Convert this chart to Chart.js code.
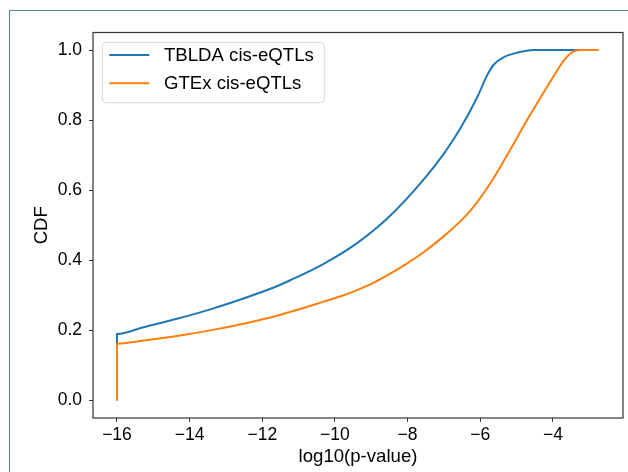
<!DOCTYPE html>
<html>
<head>
<meta charset="utf-8">
<script src="https://cdn.jsdelivr.net/npm/chart.js@4.4.1/dist/chart.umd.min.js"></script>
<style>
    html, body { margin: 0; padding: 0; background: #fff; overflow: hidden; }
    #wrap { position: relative; width: 628px; height: 472px; }
    #frame { position: absolute; left: 9px; top: 10px; width: 640px; height: 480px;
             border-left: 1px solid #5b7fb4; border-top: 1px solid #5b7fb4; }
    #cdfChart { position: absolute; left: 0; top: 0; }
</style>
</head>
<body>
<div id="wrap">
    <div id="frame"></div>
    <canvas id="cdfChart" width="628" height="472"></canvas>
</div>
<script>
// log10(p-value) / CDF pairs for each set of cis-eQTLs
var tbldaX = [-16, -16, -15.27, -14.35, -13.43, -12.52, -11.6, -11.23, -10.31, -9.39, -8.48, -7.56, -7.01, -6.55, -6.09, -5.8, -5.63, -5.36, -4.99, -4.53, -3.0];
var tbldaY = [0, 0.19, 0.209, 0.233, 0.26, 0.291, 0.326, 0.343, 0.39, 0.449, 0.527, 0.63, 0.703, 0.776, 0.864, 0.93, 0.958, 0.979, 0.992, 1.0, 1.0];

var gtexX = [-16, -16, -15.27, -14.35, -13.43, -12.52, -11.6, -10.31, -9.8, -9.39, -8.9, -8.48, -8.0, -7.56, -7.0, -6.55, -6.3, -6.09, -5.85, -5.63, -5.4, -5.17, -4.71, -4.26, -3.98, -3.8, -3.65, -3.52, -3.38, -3.25, -2.74];
var gtexY = [0, 0.162, 0.171, 0.184, 0.2, 0.219, 0.242, 0.282, 0.299, 0.315, 0.338, 0.362, 0.392, 0.423, 0.469, 0.511, 0.538, 0.565, 0.6, 0.635, 0.675, 0.716, 0.8, 0.878, 0.925, 0.955, 0.976, 0.99, 0.998, 1.0, 1.0];

var xTicks = [-16, -14, -12, -10, -8, -6, -4];
var yTicks = [0, 0.2, 0.4, 0.6, 0.8, 1.0];

var seriesLabels = ['TBLDA cis-eQTLs', 'GTEx cis-eQTLs'];
var seriesColors = ['#1f77b4', '#ff7f0e'];

var FONT = '"Liberation Sans", Arial, Helvetica, sans-serif';

function toPoints(xs, ys) {
    return xs.map(function (x, i) { return {x: x, y: ys[i]}; });
}

// axes box (all four sides) like a matplotlib frame
var axesBox = {
    id: 'axesBox',
    afterDraw: function (chart) {
        var ctx = chart.ctx, a = chart.chartArea;
        ctx.save();
        ctx.strokeStyle = '#333';
        ctx.lineWidth = 1.2;
        ctx.strokeRect(a.left, a.top, a.right - a.left, a.bottom - a.top);
        ctx.restore();
    }
};

// legend box in the upper left corner of the plot
var boxLegend = {
    id: 'boxLegend',
    afterDatasetsDraw: function (chart) {
        var ctx = chart.ctx, a = chart.chartArea;
        var x0 = a.left + 9.3, y0 = a.top + 9.8, w = 222, h = 60.4;
        ctx.save();
        ctx.beginPath();
        ctx.roundRect(x0, y0, w, h, 4);
        ctx.fillStyle = 'rgba(255,255,255,0.8)';
        ctx.fill();
        ctx.strokeStyle = '#d6d6d6';
        ctx.lineWidth = 1;
        ctx.stroke();

        ctx.font = '18.6px ' + FONT;
        ctx.textBaseline = 'middle';
        ctx.fillStyle = '#000';
        chart.data.datasets.forEach(function (ds, i) {
            var yy = y0 + 12.7 + i * 28.3;
            ctx.beginPath();
            ctx.moveTo(x0 + 7, yy);
            ctx.lineTo(x0 + 47, yy);
            ctx.strokeStyle = ds.borderColor;
            ctx.lineWidth = 2;
            ctx.stroke();
            ctx.fillText(ds.label, x0 + 61.7, yy + 1);
        });
        ctx.restore();
    }
};

var ctx = document.getElementById('cdfChart').getContext('2d');
new Chart(ctx, {
    type: 'line',
    data: {
        datasets: [
            {
                label: seriesLabels[0],
                data: toPoints(tbldaX, tbldaY),
                borderColor: seriesColors[0],
                borderWidth: 2,
                pointRadius: 0,
                fill: false,
                cubicInterpolationMode: 'monotone',
                order: 1
            },
            {
                label: seriesLabels[1],
                data: toPoints(gtexX, gtexY),
                borderColor: seriesColors[1],
                borderWidth: 2,
                pointRadius: 0,
                fill: false,
                cubicInterpolationMode: 'monotone',
                order: 0
            }
        ]
    },
    options: {
        responsive: false,
        animation: false,
        devicePixelRatio: 1,
        layout: {padding: {top: 32.5, right: 5, bottom: 0, left: 0}},
        plugins: {
            legend: {display: false},
            tooltip: {enabled: false}
        },
        scales: {
            x: {
                type: 'linear',
                min: -16.66,
                max: -2.07,
                border: {display: false},
                grid: {display: true, drawOnChartArea: false, drawTicks: true, tickLength: 4, color: '#333'},
                afterBuildTicks: function (scale) {
                    scale.ticks = xTicks.map(function (v) { return {value: v}; });
                },
                afterFit: function (scale) { scale.height = 54; },
                ticks: {
                    padding: 3,
                    maxRotation: 0,
                    color: '#000',
                    font: {family: FONT, size: 17.5},
                    callback: function (v) { return (v < 0 ? '\u2212' : '') + Math.abs(v); }
                },
                title: {
                    display: true,
                    text: 'log10(p-value)',
                    color: '#000',
                    font: {family: FONT, size: 18.6},
                    padding: {top: 0, bottom: 4}
                }
            },
            y: {
                type: 'linear',
                min: -0.05,
                max: 1.05,
                border: {display: false},
                grid: {display: true, drawOnChartArea: false, drawTicks: true, tickLength: 4, color: '#333'},
                afterBuildTicks: function (scale) {
                    scale.ticks = yTicks.map(function (v) { return {value: v}; });
                },
                afterFit: function (scale) { scale.width = 93; },
                ticks: {
                    padding: 7,
                    color: '#000',
                    font: {family: FONT, size: 17.5},
                    callback: function (v) { return v.toFixed(1); }
                },
                title: {
                    display: true,
                    text: 'CDF',
                    color: '#000',
                    font: {family: FONT, size: 18.6},
                    padding: {top: 31, bottom: 0}
                }
            }
        }
    },
    plugins: [axesBox, boxLegend]
});
</script>
</body>
</html>
